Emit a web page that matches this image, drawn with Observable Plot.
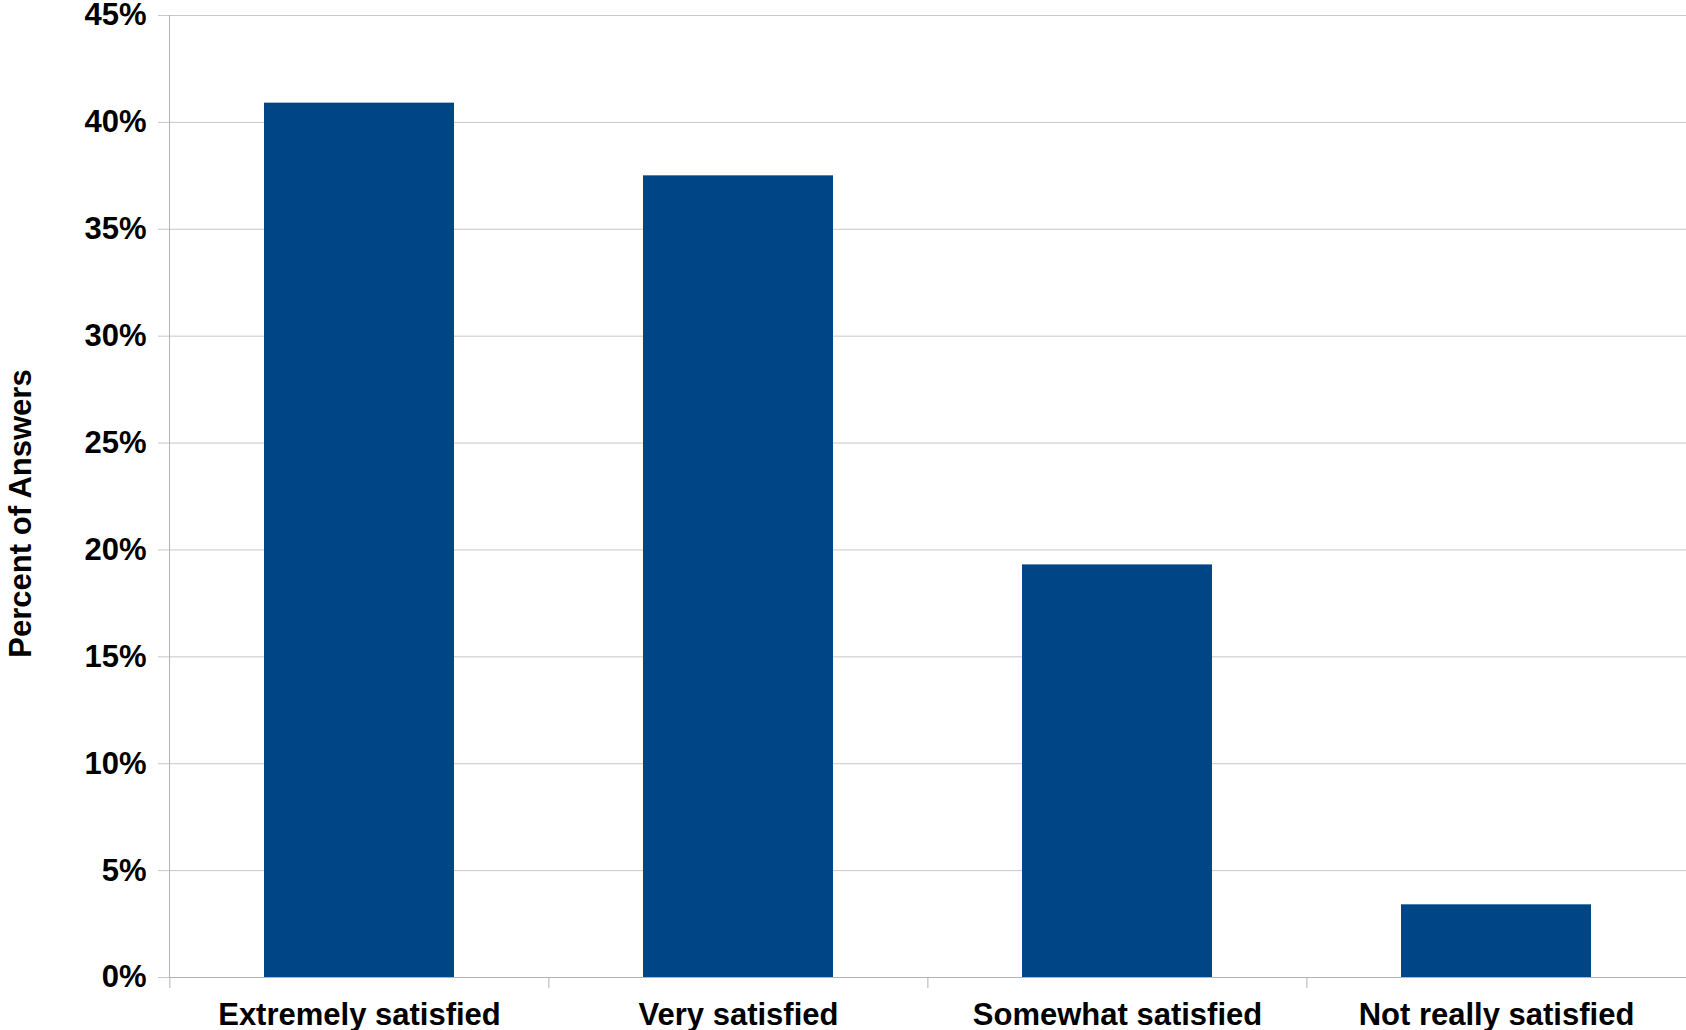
<!DOCTYPE html>
<html>
<head>
<meta charset="utf-8">
<script src="https://cdn.jsdelivr.net/npm/d3@7"></script>
<script src="https://cdn.jsdelivr.net/npm/@observablehq/plot@0.6"></script>
<style>
  html, body { margin: 0; padding: 0; background: #fff; }
  #chart svg { display: block; }
</style>
</head>
<body>
<div id="chart"></div>
<script>
const categories = ["Extremely satisfied", "Very satisfied", "Somewhat satisfied", "Not really satisfied"];
const percents = [40.9, 37.5, 19.3, 3.4];
const yTicks = [0, 5, 10, 15, 20, 25, 30, 35, 40, 45];
const yLabel = "Percent of Answers";

const data = categories.map((c, i) => ({category: c, percent: percents[i]}));

const W = 1686, H = 1030;
const mL = 169, mR = 0, mT = 15, mB = 53;
const step = (W - mL - mR) / categories.length;

const chart = Plot.plot({
  width: W,
  height: H,
  marginLeft: mL,
  marginRight: mR,
  marginTop: mT,
  marginBottom: mB,
  style: {fontFamily: "'Liberation Sans', Arial, sans-serif", fontSize: "31px", fontWeight: "bold", color: "#000", background: "#fff"},
  x: {type: "band", domain: categories, paddingInner: 0.5, paddingOuter: 0.25, label: null},
  y: {domain: [0, 45], label: null},
  marks: [
    Plot.ruleY(yTicks, {stroke: "#c8c8c8", strokeWidth: 1}),
    Plot.axisY({ticks: yTicks, tickFormat: d => d + "%", tickSize: 11, tickPadding: 12, stroke: "#c8c8c8", label: null, fontSize: 31, fontWeight: "bold"}),
    Plot.barY(data, {x: "category", y: "percent", fill: "#004586"}),
    Plot.ruleY([0], {stroke: "#b3b3b3", strokeWidth: 1}),
    Plot.frame({anchor: "left", stroke: "#b3b3b3"}),
    Plot.ruleX(categories, {x: d => d, y1: 0, y2: 0, insetBottom: -11, dx: -step / 2, stroke: "#b3b3b3"}),
    Plot.axisX({tickSize: 0, tickPadding: 25, label: null, fontSize: 31, fontWeight: "bold"}),
    Plot.text([yLabel], {frameAnchor: "left", textAnchor: "middle", lineAnchor: "middle", rotate: -90, dx: -148, dy: 17, fontSize: 31, fontWeight: "bold", fill: "#000"})
  ]
});

document.getElementById("chart").appendChild(chart);
</script>
</body>
</html>
